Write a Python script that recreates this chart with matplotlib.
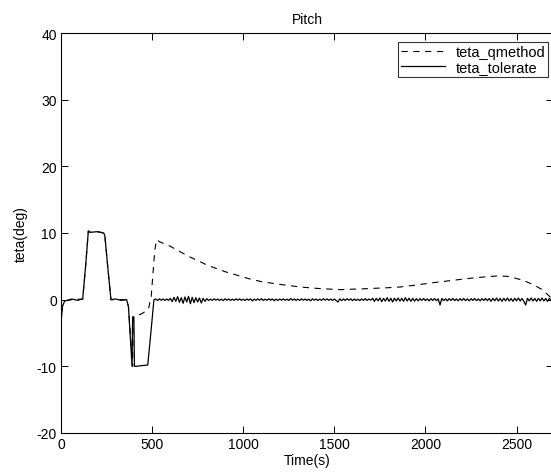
import numpy as np
import matplotlib
matplotlib.use("Agg")
import matplotlib.pyplot as plt

plt.rcParams['font.family'] = ['Liberation Sans', 'DejaVu Sans']
plt.rcParams['lines.scale_dashes'] = False
plt.rcParams['axes.unicode_minus'] = False

# ---- data ----
title = "Pitch"
xlabel = "Time(s)"
ylabel = "teta(deg)"
series_names = ["teta_qmethod", "teta_tolerate"]
xticks = [0, 500, 1000, 1500, 2000, 2500]
yticks = [-20, -10, 0, 10, 20, 30, 40]

# teta_qmethod (dashed)
t_q = [0, 8, 20, 60, 119, 135, 150, 160, 200, 235, 241, 258, 274, 360, 370, 393,
       396, 420, 450, 480, 495, 505, 515, 525, 540, 600, 700, 763, 800, 900, 1037,
       1100, 1200, 1312, 1400, 1531, 1678, 1800, 1861, 1950, 2043, 2150, 2226,
       2300, 2391, 2450, 2482, 2536, 2592, 2638, 2675, 2700]
v_q = [-3.5, -1.0, -0.2, 0.0, 0.1, 5.0, 10.3, 10.1, 10.2, 10.0, 9.5, 4.5, 0.0,
       0.0, -1.0, -10.0, -2.6, -2.4, -2.0, -1.4, 0.5, 4.0, 7.5, 9.0, 8.7, 8.0,
       6.5, 5.7, 5.2, 4.2, 3.1, 2.7, 2.3, 1.9, 1.7, 1.5, 1.65, 1.8, 1.9, 2.2,
       2.55, 2.9, 3.15, 3.35, 3.55, 3.5, 3.3, 2.9, 2.25, 1.55, 0.65, 0.0]

# teta_tolerate (solid), maneuver part
t_s = [0, 8, 20, 60, 90, 119, 135, 150, 160, 200, 235, 241, 258, 274, 300, 330,
       360, 370, 390, 393, 400, 403, 412, 440, 476, 493, 510]
v_s = [-3.5, -1.0, -0.2, 0.1, -0.1, 0.1, 5.0, 10.3, 10.1, 10.2, 10.0, 9.5, 4.5,
       0.0, 0.1, -0.1, 0.0, -1.0, -10.0, -2.6, -2.6, -10.0, -10.0, -9.9, -9.8,
       -5.0, 0.0]
# teta_tolerate (solid), near-zero part sampled every 10 s from 520 s
noise_start = 520
noise_step = 10
v_noise = [
    0.1, -0.12, 0.12, -0.08, 0.1, -0.12, 0.1, -0.1,
    0.2, -0.3, 0.35, -0.25, 0.45, -0.4, 0.3, -0.55, 0.4, -0.35, 0.5, -0.6, 0.35, -0.45,
    0.3, -0.35, 0.25, -0.5, 0.2, -0.25, 0.15,
    -0.12, 0.08, -0.1, 0.12, -0.08, 0.1, -0.12, 0.08, -0.15, 0.12, -0.08, 0.1, -0.12,
    0.08, -0.1, 0.12, -0.08, 0.12, -0.1, 0.08,
    -0.12, 0.1, -0.08, 0.12, -0.18, 0.08, -0.1, 0.12, -0.08, 0.15, -0.12, 0.08, -0.1,
    0.12, -0.08, 0.1, -0.15, 0.08, -0.12, 0.1, -0.08, 0.12, -0.1, 0.08, -0.12, 0.18,
    -0.08, 0.1, -0.12, 0.08, -0.1, 0.12, -0.08, 0.1, -0.12, 0.08, -0.18, 0.12, -0.08,
    0.1, -0.12, 0.08, -0.1, 0.15, -0.08, 0.12, -0.1, 0.08, -0.12, 0.1,
    -0.12, -0.35, 0.12, -0.15, 0.1, -0.12, 0.15, -0.08, 0.12, -0.15, 0.1, -0.12,
    0.08, -0.15, 0.12, -0.1, 0.15, -0.12, 0.1, -0.08,
    0.2, -0.25, 0.2, -0.18, 0.25, -0.3, 0.2, -0.22, 0.3, -0.25, 0.2, -0.35, 0.22,
    -0.2, 0.25, -0.22, 0.2, -0.25, 0.3, -0.2, 0.22, -0.25, 0.2, -0.22, 0.15,
    -0.18, 0.15, -0.12, 0.18, -0.15, 0.12, -0.18, 0.15, -0.12, 0.18, -0.15, 0.12, -0.8,
    0.18, -0.15, 0.12, -0.18, 0.15, -0.12, 0.18, -0.15, 0.12, -0.18, 0.15, -0.12, 0.18,
    -0.15, 0.12, -0.18, 0.15, -0.12, 0.18, -0.15, 0.12, -0.18, 0.15, -0.12, 0.18, -0.15,
    0.18, -0.25, 0.2, -0.18, 0.25, -0.2, 0.18, -0.25, 0.2, -0.18, 0.25, -0.2, 0.18,
    -0.25, 0.2, -0.18, 0.25, -0.2, 0.18, -0.25, -0.8, 0.2, -0.18, 0.25, -0.2, 0.18,
    -0.25, 0.2, -0.18, 0.25, -0.2, 0.18, -0.25, 0.2, -0.18, 0.25, -0.2, 0.18, -0.25,
    0.1,
]
t_noise = np.arange(len(v_noise)) * noise_step + noise_start

t_tol = np.concatenate([t_s, t_noise])
v_tol = np.concatenate([v_s, v_noise])

# ---- figure ----
fig = plt.figure(figsize=(5.51, 4.77), dpi=100)
ax = fig.add_axes([61 / 551, 43 / 477, 492 / 551, 400 / 477])

ax.plot(t_q, v_q, color='black', lw=0.8, dashes=(4.5, 4), label=series_names[0])
ax.plot(t_tol, v_tol, color='black', lw=0.9, label=series_names[1])

ax.set_xlim(0, 2700)
ax.set_ylim(-20, 40)
ax.set_xticks(xticks)
ax.set_yticks(yticks)
ax.tick_params(direction='in', top=True, right=True, labelsize=10, length=5,
               width=0.7, pad=3)
for s in ax.spines.values():
    s.set_linewidth(0.8)

ax.set_title(title, fontsize=10, pad=7)
ax.set_xlabel(xlabel, fontsize=10, labelpad=1)
ax.set_ylabel(ylabel, fontsize=10, labelpad=6)

# legend box placed in axes pixels: left ~391, right ~548, top ~43
leg = ax.legend(loc='upper right', bbox_to_anchor=((548 - 61) / 492, 1 - 9 / 400),
                frameon=True, fancybox=False, fontsize=10.5, handlelength=3.0,
                borderpad=0.2, labelspacing=0.1, handletextpad=0.7,
                borderaxespad=0)
leg.get_frame().set_edgecolor('black')
leg.get_frame().set_linewidth(0.8)

fig.savefig('out.png', dpi=100)
